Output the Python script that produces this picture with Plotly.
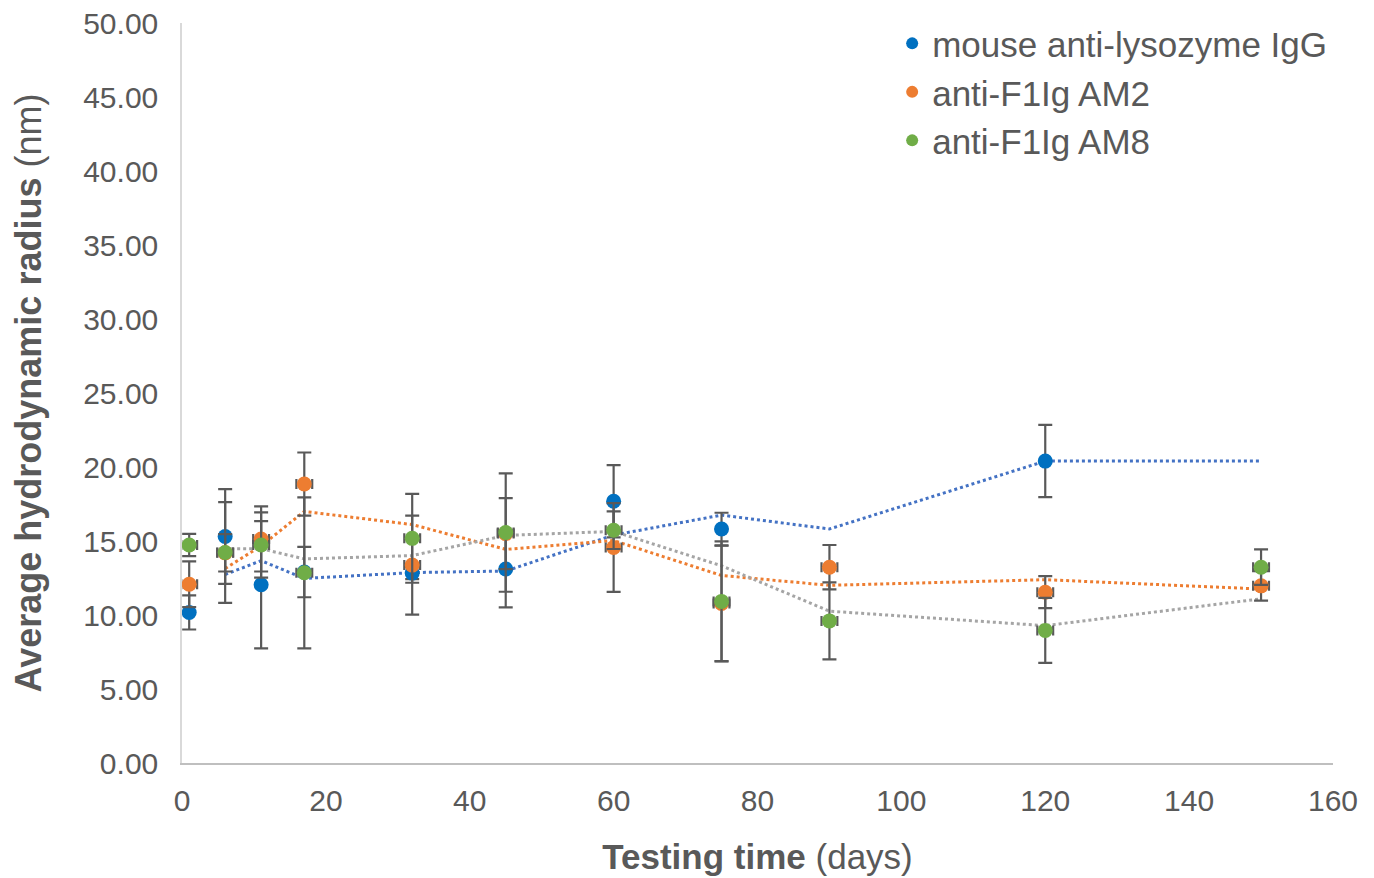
import numpy as np
import plotly.graph_objects as go

days = [1, 6, 11, 17, 32, 45, 60, 75, 90, 120, 150]
series_names = ["mouse anti-lysozyme IgG", "anti-F1Ig AM2", "anti-F1Ig AM8"]
igg = [10.17, 15.30, 12.04, 12.90, 12.83, 13.11, 17.69, 15.81, None, 20.40, None]
igg_err = [1.15, 3.20, 4.30, 1.70, 0.40, 2.60, 2.44, 1.10, None, 2.44, None]
am2 = [12.08, 14.20, 15.14, 18.85, 13.37, 15.50, 14.56, 10.78, 13.23, 11.54, 11.97]
am2_err = [1.55, 1.26, 2.20, 2.13, 3.35, 2.40, 3.00, 3.90, 1.50, 1.08, 1.00]
am8 = [14.73, 14.22, 14.73, 12.85, 15.18, 15.57, 15.73, 10.92, 9.60, 8.96, 13.23]
am8_err = [0.75, 3.40, 2.20, 5.10, 3.00, 4.00, 1.27, 4.06, 2.60, 2.20, 1.20]
x_err = [0, 1.1, 1.1]  # small horizontal error bars (days)
y_ticks = [0, 5, 10, 15, 20, 25, 30, 35, 40, 45, 50]
x_ticks = [0, 20, 40, 60, 80, 100, 120, 140, 160]

marker_colors = ["#0070C0", "#ED7D31", "#70AD47"]
trend_colors = ["#4472C4", "#ED7D31", "#A5A5A5"]
err_color = "#595959"
FONT = "Arial, Liberation Sans, sans-serif"


def moving_avg2(vals):
    """Excel-style 2-period moving average, skipping blanks."""
    v = np.array([np.nan if a is None else a for a in vals], dtype=float)
    out = [None]
    for i in range(1, len(v)):
        w = v[i - 1:i + 1]
        out.append(float(np.nanmean(w)) if not np.all(np.isnan(w)) else None)
    return out


fig = go.Figure()
all_y = [igg, am2, am8]
all_e = [igg_err, am2_err, am8_err]

for i, ys in enumerate(all_y):
    fig.add_trace(go.Scatter(
        x=days[1:], y=moving_avg2(ys)[1:], mode="lines",
        line=dict(color=trend_colors[i], width=3, dash="dot"),
        showlegend=False, hoverinfo="skip", connectgaps=True))

for i, ys in enumerate(all_y):
    fig.add_trace(go.Scatter(
        x=days, y=ys, mode="markers", name=series_names[i],
        marker=dict(color=marker_colors[i], size=15),
        error_y=dict(type="data", array=all_e[i], visible=True,
                     color=err_color, thickness=2.2, width=7),
        error_x=dict(type="constant", value=x_err[i], visible=x_err[i] > 0,
                     color=err_color, thickness=2.2, width=5),
    ))

fig.update_layout(
    width=1374, height=878,
    margin=dict(l=174, r=49, t=6, b=123),
    paper_bgcolor="white", plot_bgcolor="white",
    font=dict(family=FONT, size=30, color="#595959"),
    showlegend=True,
    legend=dict(x=0.617, y=1.012, xanchor="left", yanchor="top",
                bgcolor="rgba(0,0,0,0)", font=dict(size=35, color="#595959"),
                itemsizing="constant", tracegroupgap=0, itemwidth=30),
    xaxis=dict(range=[0, 160], tickvals=x_ticks, showgrid=False, zeroline=False,
               showline=True, linecolor="#BFBFBF", linewidth=1.5, ticks="",
               automargin=False, ticklabelstandoff=10, ticklabeloverflow="allow",
               tickfont=dict(size=30, color="#595959"),
               title=dict(text="<b>Testing time</b> (days)", standoff=29,
                          font=dict(size=35, color="#595959"))),
    yaxis=dict(range=[0, 50], tickvals=y_ticks, tickformat=".2f", showgrid=False,
               zeroline=False, showline=True, linecolor="#D9D9D9", linewidth=1.5,
               ticks="", automargin=False, ticklabelstandoff=16,
               ticklabeloverflow="allow",
               tickfont=dict(size=30, color="#595959"),
               title=dict(text="<b>Average hydrodynamic radius</b> (nm)", standoff=31,
                          font=dict(size=36, color="#595959"))),
)

fig.write_html("out.html")
